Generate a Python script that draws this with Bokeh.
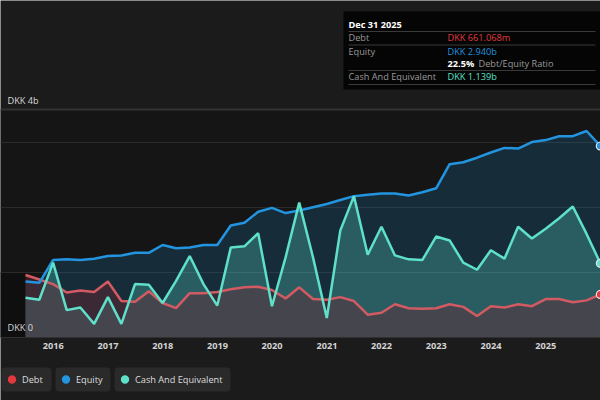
import pandas as pd
from bokeh.plotting import figure
from bokeh.models import (Range1d, FixedTicker, DatetimeTickFormatter, Grid, Label,
                          BoxAnnotation, Legend, LegendItem, Span)
from bokeh.embed import file_html
from bokeh.resources import INLINE

# ---------------- data (DKK billions, quarter ends) ----------------
dates = ["2015-06-30", "2015-09-30", "2015-12-31",
         "2016-03-31", "2016-06-30", "2016-09-30", "2016-12-31",
         "2017-03-31", "2017-06-30", "2017-09-30", "2017-12-31",
         "2018-03-31", "2018-06-30", "2018-09-30", "2018-12-31",
         "2019-03-31", "2019-06-30", "2019-09-30", "2019-12-31",
         "2020-03-31", "2020-06-30", "2020-09-30", "2020-12-31",
         "2021-03-31", "2021-06-30", "2021-09-30", "2021-12-31",
         "2022-03-31", "2022-06-30", "2022-09-30", "2022-12-31",
         "2023-03-31", "2023-06-30", "2023-09-30", "2023-12-31",
         "2024-03-31", "2024-06-30", "2024-09-30", "2024-12-31",
         "2025-03-31", "2025-06-30", "2025-09-30", "2025-12-31"]

debt = [0.96, 0.89, 0.82,
        0.69, 0.72, 0.70, 0.86,
        0.56, 0.55, 0.71, 0.53,
        0.45, 0.68, 0.68, 0.70,
        0.74, 0.77, 0.78, 0.73,
        0.60, 0.77, 0.59, 0.58,
        0.62, 0.56, 0.35, 0.38,
        0.51, 0.45, 0.44, 0.45,
        0.51, 0.47, 0.33, 0.48,
        0.46, 0.51, 0.48, 0.59,
        0.59, 0.54, 0.57, 0.661068]

equity = [0.86, 0.84, 1.19,
          1.20, 1.19, 1.21, 1.25,
          1.26, 1.30, 1.30, 1.42,
          1.37, 1.38, 1.42, 1.42,
          1.72, 1.76, 1.93, 1.99,
          1.91, 1.95, 2.00, 2.05,
          2.11, 2.17, 2.19, 2.21,
          2.21, 2.18, 2.23, 2.29,
          2.66, 2.69, 2.76, 2.84,
          2.91, 2.90, 3.00, 3.03,
          3.09, 3.09, 3.17, 2.940]

cash = [0.61, 0.58, 1.15,
        0.42, 0.46, 0.21, 0.62,
        0.21, 0.82, 0.81, 0.53,
        0.87, 1.25, 0.82, 0.49,
        1.38, 1.40, 1.60, 0.48,
        1.23, 2.07, 1.23, 0.30,
        1.64, 2.17, 1.27, 1.70,
        1.26, 1.20, 1.19, 1.55,
        1.49, 1.15, 1.04, 1.34,
        1.21, 1.70, 1.52, 1.67,
        1.83, 2.01, 1.59, 1.139]

year_ticks = [2016, 2017, 2018, 2019, 2020, 2021, 2022, 2023, 2024, 2025]
grid_values = [1, 2, 3]
plot_top = 3.5
series_names = ["Debt", "Equity", "Cash And Equivalent"]
axis_top_label = "DKK 4b"
axis_bottom_label = "DKK 0"

# ---------------- styling ----------------
FONT = "Open Sans"
FS = "9.2px"
DEBT_C = "#e2393e"
EQ_C = "#2394df"
CASH_C = "#5ee0c9"

x = pd.to_datetime(dates)

# frame covers the whole canvas; value 0 sits 63px above the bottom, 3.5 at 109px from top
p = figure(width=600, height=400, x_axis_type="datetime",
           x_range=Range1d(pd.Timestamp("2015-01-14"), pd.Timestamp("2026-01-01")),
           y_range=Range1d(-0.967, 5.173), y_axis_location=None,
           output_backend="svg", toolbar_location=None,
           min_border_left=0, min_border_right=0, min_border_top=0, min_border_bottom=0,
           background_fill_color="#1b1b1b", border_fill_color="#1b1b1b",
           outline_line_color=None)
p.styles = {"position": "absolute", "left": "0px", "top": "0px"}

# plot-area background
p.add_layout(BoxAnnotation(bottom=0, top=plot_top, fill_color="#151515", fill_alpha=1,
                           line_alpha=0, level="underlay"))
# dark box left of first data point
p.add_layout(BoxAnnotation(right=x[0].value / 1e6, bottom=0, top=grid_values[0],
                           fill_color="#0f0f0f", fill_alpha=1, line_alpha=0, level="underlay"))

# grids
p.center = [r for r in p.center if not isinstance(r, Grid)]
p.add_layout(Grid(dimension=1, ticker=FixedTicker(ticks=grid_values),
                  grid_line_color="#2a2a2a", grid_line_width=1))
p.add_layout(Span(location=plot_top, dimension="width", line_color="#333333", line_width=2))

# x axis drawn at value 0
ax = p.xaxis[0]
ax.fixed_location = 0
ax.ticker = FixedTicker(ticks=[pd.Timestamp(f"{y}-01-01").value / 1e6 for y in year_ticks])
ax.formatter = DatetimeTickFormatter(years="%Y", months="%Y", days="%Y", hours="%Y")
ax.axis_line_color = "#303030"
ax.axis_line_width = 1
ax.major_tick_line_color = None
ax.minor_tick_line_color = None
ax.major_tick_out = 0
ax.major_label_standoff = 5
ax.major_label_text_color = "#d4d4d4"
ax.major_label_text_font = FONT
ax.major_label_text_font_style = "bold"
ax.major_label_text_font_size = FS

# areas
p.varea(x=x, y1=0, y2=equity, fill_color=EQ_C, fill_alpha=0.18)
p.varea(x=x, y1=0, y2=cash, fill_color=CASH_C, fill_alpha=0.28)
p.varea(x=x, y1=0, y2=debt, fill_color="#6b2833", fill_alpha=0.43)
# lines
p.line(x, debt, line_color="#d25a63", line_width=2.5)
p.line(x, equity, line_color=EQ_C, line_width=2.5)
p.line(x, cash, line_color=CASH_C, line_width=2.5)

# plain dots used as legend glyphs (hidden under the outlined last-value markers)
legend_dots = []
for ser, col in [(debt, DEBT_C), (equity, EQ_C), (cash, CASH_C)]:
    legend_dots.append(p.scatter([x[-1]], [ser[-1]], size=6, fill_color=col, line_color=None))
# last-value markers
for ser, col in [(debt, DEBT_C), (equity, EQ_C), (cash, CASH_C)]:
    p.scatter([x[-1]], [ser[-1]], size=8, fill_color=col, line_color="#e8e8e8", line_width=1.2)

# legend (one chip per series)
chip_left = [1, 55, 114]
chip_right = [51, 110, 230]
for name, dot, lx, rx in zip(series_names, legend_dots, chip_left, chip_right):
    p.add_layout(BoxAnnotation(left=lx, right=rx, bottom=9, top=33,
                               left_units="screen", right_units="screen",
                               bottom_units="screen", top_units="screen",
                               fill_color="#2a2a2a", fill_alpha=1, line_alpha=0,
                               border_radius=4))
    p.add_layout(Legend(items=[LegendItem(label=name, renderers=[dot])],
                        orientation="horizontal", location=(lx, 9), padding=0, margin=0,
                        glyph_width=21, glyph_height=24, label_standoff=0,
                        label_height=24, label_text_font=FONT,
                        label_text_font_size=FS, label_text_color="#dedede",
                        background_fill_alpha=0, border_line_color=None))


def lab(text, xs, ys, color, bold=False, size=FS):
    p.add_layout(Label(x=xs, y=ys, x_units="screen", y_units="screen", text=text,
                       text_color=color, text_font=FONT, text_font_size=size,
                       text_font_style="bold" if bold else "normal",
                       text_baseline="middle", text_align="left"))


lab(axis_top_label, 7, 300, "#d8d8d8")
lab(axis_bottom_label, 7, 73, "#d8d8d8")

# tooltip panel (screen units: pixels up from the canvas bottom)
p.add_layout(BoxAnnotation(left=343, right=600, bottom=311, top=389,
                           left_units="screen", right_units="screen",
                           bottom_units="screen", top_units="screen",
                           fill_color="#050505", fill_alpha=1, line_alpha=0))
for yy in [369, 355.5, 330, 316]:
    p.add_layout(BoxAnnotation(left=348, right=595, bottom=yy - 0.5, top=yy + 0.5,
                               left_units="screen", right_units="screen",
                               bottom_units="screen", top_units="screen",
                               fill_color="#3a3a3a", fill_alpha=1, line_alpha=0))

lab(x[-1].strftime("%b %d %Y"), 348, 376, "#ffffff", bold=True)
lab(series_names[0], 348, 363.3, "#9a9a9a")
lab(f"DKK {debt[-1] * 1000:.3f}m", 447, 363.3, DEBT_C)
lab(series_names[1], 348, 349.3, "#9a9a9a")
lab(f"DKK {equity[-1]:.3f}b", 447, 349.3, EQ_C)
lab(f"{debt[-1] / equity[-1] * 100:.1f}%", 447, 337.3, "#ffffff", bold=True)
lab("Debt/Equity Ratio", 478, 337.3, "#9a9a9a")
lab(series_names[2], 348, 324.3, "#9a9a9a")
lab(f"DKK {cash[-1]:.3f}b", 447, 324.3, CASH_C)

open("out.html", "w").write(file_html(p, INLINE))
